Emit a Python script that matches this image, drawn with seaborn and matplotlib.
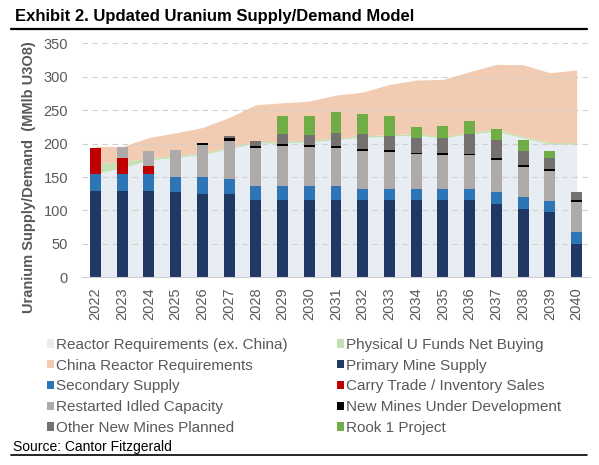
import numpy as np
import matplotlib
matplotlib.use('Agg')
import matplotlib.pyplot as plt
import seaborn as sns
from matplotlib.patches import Patch
from matplotlib.lines import Line2D

########### Datos (MMlb U3O8) ###########
years = [str(y) for y in range(2022, 2041)]

# demanda (areas)
reactor_ex_china = [155, 163.5, 175.5, 179.5, 183.5, 192.5, 200.5, 201, 202.5, 206,
                    209, 211, 212.5, 208.5, 214.5, 218.5, 208.5, 199, 199]
funds_buying = [15, 9, 3.5, 2.5, 2.5, 2.5, 2.5, 2.5, 2.5, 2.5,
                2.5, 2.5, 2.5, 2.5, 2.5, 2.5, 2.5, 2.5, 2.5]
china_reactor = [26, 23, 30, 34, 38, 44, 55, 57.5, 58.5, 64,
                 65.5, 75, 80, 85, 90.5, 97.5, 107, 104.5, 108.5]

# oferta (barras apiladas)
primary = [129, 129, 129, 127.5, 124.5, 124.5, 116, 116, 116, 116,
           116, 116, 116, 116, 116, 110, 102.5, 97.5, 50]
secondary = [26, 26, 26, 22.5, 25, 22.5, 21, 21, 21, 21,
             16.5, 16.5, 16.5, 16.5, 16.5, 17.5, 17.5, 16.5, 18]
carry_trade = [39, 24, 11.5, 0, 0, 0, 0, 0, 0, 0,
               0, 0, 0, 0, 0, 0, 0, 0, 0]
restarted = [0, 16, 22.5, 41, 48.3, 56.7, 55.8, 59.7, 57.7, 55.8,
             55.8, 54.3, 51.8, 50.8, 50.3, 47.8, 44.4, 45.3, 44.5]
new_dev = [0, 0, 0, 0, 2.5, 4, 3.4, 2.5, 3, 3,
           3.5, 3.5, 1.2, 3, 1.5, 3, 3.5, 3, 3]
other_new = [0, 0, 0, 0, 0, 4, 7.5, 15, 15, 20.4,
             22.4, 20.9, 22.7, 21.7, 29.9, 26.9, 20.4, 16.5, 12]
rook1 = [0, 0, 0, 0, 0, 0, 0, 26.8, 28.3, 30.4,
         30.4, 29.8, 16, 18, 19.4, 17, 16.9, 10.5, 0]

########### Colores ###########
c_reactor = '#E8ECF3'
c_funds = '#C5E0B4'
c_china = '#F1CBB2'
capas = [('Primary Mine Supply', primary, '#1F3864'),
         ('Secondary Supply', secondary, '#2E75B6'),
         ('Carry Trade / Inventory Sales', carry_trade, '#C00000'),
         ('Restarted Idled Capacity', restarted, '#AEAAAA'),
         ('New Mines Under Development', new_dev, '#000000'),
         ('Other New Mines Planned', other_new, '#767171'),
         ('Rook 1 Project', rook1, '#70AD47')]

########### Grafica ###########
sns.set_style("white")
plt.rcParams['font.family'] = ['Liberation Sans', 'DejaVu Sans']
gris = '#595959'

fig = plt.figure(figsize=(5.99, 4.65), dpi=100)
ax = fig.add_axes([82/599, 1-277.3/465, 508/599, 234/465])

x = np.arange(len(years))
r = np.array(reactor_ex_china)
f = r + np.array(funds_buying)
c = f + np.array(china_reactor)
ax.fill_between(x, 0, r, color=c_reactor, lw=0, zorder=1)
ax.fill_between(x, r, f, color=c_funds, lw=0, zorder=1)
ax.fill_between(x, f, c, color=c_china, lw=0, zorder=1)

for yv in range(50, 351, 50):
    ax.axhline(yv, color='#D0D0D0', lw=0.8, ls=(0, (5, 4)), zorder=1.5)

acum = np.cumsum([np.array(v, dtype=float) for _, v, _ in capas], axis=0)
for i in reversed(range(len(capas))):
    sns.barplot(x=years, y=acum[i], color=capas[i][2], saturation=1, width=0.41,
                errorbar=None, linewidth=0, ax=ax, zorder=2)

ax.set_xlim(-0.5, len(years) - 0.5)
ax.set_ylim(0, 350)
ax.set_yticks(range(0, 351, 50))
ax.set_xlabel('')
ax.set_ylabel('')
ax.tick_params(axis='y', length=0, pad=10, labelsize=10.5, labelcolor=gris)
ax.tick_params(axis='x', length=0, pad=7, labelsize=10.5, labelcolor=gris, rotation=90)
sns.despine(ax=ax, left=True)
ax.spines['bottom'].set_color('#D0D0D0')
ax.spines['bottom'].set_zorder(3)

fig.text(29/599, 1-177.5/465, 'Uranium Supply/Demand  (MMlb U3O8)', rotation=90,
         ha='center', va='center', fontsize=10.5, fontweight='bold', color=gris)

fig.text(15/599, 1-17/465, 'Exhibit 2. Updated Uranium Supply/Demand Model',
         ha='left', va='center', fontsize=12, fontweight='bold', color='black')
fig.add_artist(Line2D([11/599, 587/599], [1-29.5/465]*2, color='black', lw=1.6))

nombres_izq = [('Reactor Requirements (ex. China)', c_reactor),
               ('China Reactor Requirements', c_china),
               ('Secondary Supply', '#2E75B6'),
               ('Restarted Idled Capacity', '#AEAAAA'),
               ('Other New Mines Planned', '#767171')]
nombres_der = [('Physical U Funds Net Buying', c_funds),
               ('Primary Mine Supply', '#1F3864'),
               ('Carry Trade / Inventory Sales', '#C00000'),
               ('New Mines Under Development', '#000000'),
               ('Rook 1 Project', '#70AD47')]
handles = [Patch(facecolor=col, edgecolor='none', label=lab) for lab, col in nombres_izq + nombres_der]
fig.legend(handles=handles, ncol=2, loc='upper left', bbox_to_anchor=(47/599, 1-338/465),
           frameon=False, fontsize=11, labelcolor=gris, handlelength=0.45, handleheight=0.45,
           handletextpad=0.15, columnspacing=3.2, labelspacing=0.44, borderpad=0, borderaxespad=0)

fig.text(13/599, 1-446.7/465, 'Source: Cantor Fitzgerald', ha='left', va='center',
         fontsize=10, color='black')
fig.add_artist(Line2D([11/599, 587/599], [1-455.3/465]*2, color='black', lw=1.2))

plt.savefig('out.png', dpi=100)
